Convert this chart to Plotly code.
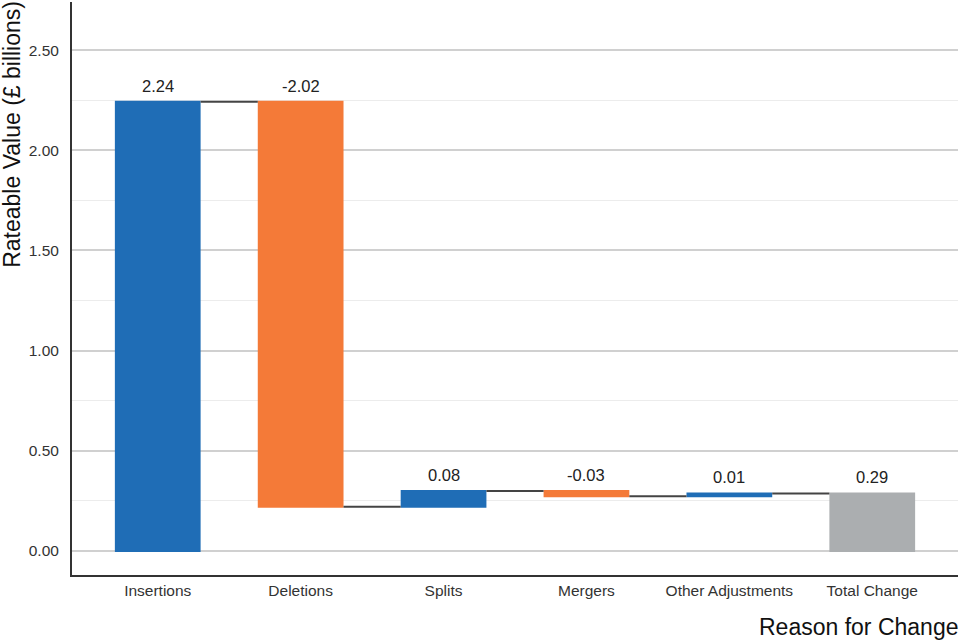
import plotly.graph_objects as go

categories = ["Insertions", "Deletions", "Splits", "Mergers", "Other Adjustments", "Total Change"]
measures = ["relative", "relative", "relative", "relative", "relative", "total"]
values = [2.242, -2.021, 0.078, -0.026, 0.014, 0]
labels = ["2.24", "-2.02", "0.08", "-0.03", "0.01", "0.29"]
y_ticks = [0, 0.5, 1.0, 1.5, 2.0, 2.5]

BLUE = "#1f6db6"
ORANGE = "#f47a38"
GREY = "#abaeb0"
FONT = "Liberation Sans, Arial, Helvetica, sans-serif"

fig = go.Figure()
fig.add_trace(go.Waterfall(
    x=categories, y=values, measure=measures,
    increasing=dict(marker=dict(color=BLUE, line=dict(width=0))),
    decreasing=dict(marker=dict(color=ORANGE, line=dict(width=0))),
    totals=dict(marker=dict(color=GREY, line=dict(width=0))),
    connector=dict(mode="between", line=dict(color="#444444", width=2)),
    width=0.6,
    textposition="none",
    hoverinfo="x+y",
))

# label annotations at the top of each bar
run = 0.0
tops = []
for m, v in zip(measures, values):
    if m == "total":
        tops.append(run)
    else:
        tops.append(max(run, run + v))
        run += v
for c, t, lab in zip(categories, tops, labels):
    fig.add_annotation(x=c, y=t, text=lab, showarrow=False, yanchor="bottom",
                       yshift=5, font=dict(size=16.5, color="#222", family=FONT))

fig.add_annotation(xref="paper", yref="paper", x=-0.068, y=1.006, text="Rateable Value (£ billions)",
                   textangle=-90, showarrow=False, xanchor="center", yanchor="top",
                   font=dict(size=23, color="#111", family=FONT))
fig.add_annotation(xref="paper", yref="paper", x=1.002, y=-0.064, text="Reason for Change",
                   showarrow=False, xanchor="right", yanchor="top",
                   font=dict(size=23, color="#111", family=FONT))

fig.update_layout(
    width=960, height=640,
    margin=dict(l=72, r=2, t=2, b=65, autoexpand=False),
    plot_bgcolor="white", paper_bgcolor="white",
    showlegend=False,
    font=dict(family=FONT, color="#333"),
    xaxis=dict(range=[-0.6, 5.6], showgrid=False, showline=True, linecolor="#333",
               linewidth=2, ticks="", tickfont=dict(size=15.5, color="#333"),
               zeroline=False, automargin=False),
    yaxis=dict(range=[-0.12, 2.74], tickvals=y_ticks, tickformat=".2f",
               showgrid=True, gridcolor="#d0d0d0", gridwidth=2,
               minor=dict(dtick=0.25, showgrid=True, gridcolor="#ececec", gridwidth=1),
               showline=True, linecolor="#333", linewidth=2, zeroline=False,
               ticks="", ticklabelstandoff=8, tickfont=dict(size=15.5, color="#333"),
               automargin=False),
)

fig.write_html("out.html", config={"displayModeBar": False})
with open("out.html", "r", encoding="utf-8") as f:
    html = f.read()
html = html.replace("<body>", '<body style="margin:0;padding:0;">', 1)
with open("out.html", "w", encoding="utf-8") as f:
    f.write(html)
